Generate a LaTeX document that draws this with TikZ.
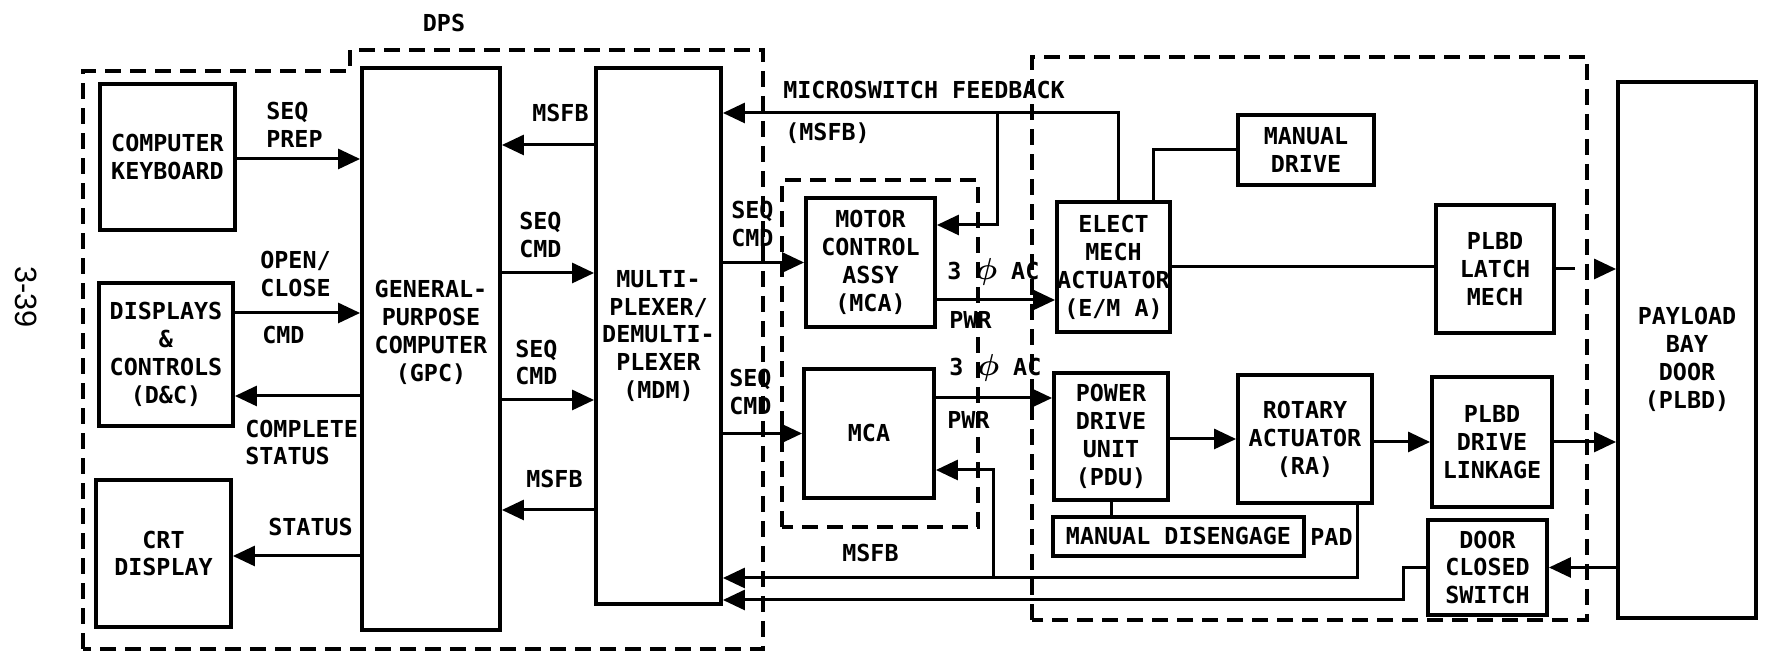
\documentclass[tikz,border=0pt]{standalone}
\usepackage{fontspec}
\setmainfont{DejaVu Sans Mono}
\newfontfamily\pagefont{Liberation Sans}
\usetikzlibrary{arrows.meta}

\newcommand{\phisym}{{\fontsize{17}{17}\selectfont\boldmath$\phi$}}

\begin{document}
\begin{tikzpicture}[
        box/.style={draw, line width=2.2pt, inner sep=0pt, align=center},
        wire/.style={line width=1.7pt},
        flow/.style={wire, -{Triangle[length=0.44cm, width=0.40cm]}},
        bound/.style={line width=1.9pt, dash pattern=on 0.32cm off 0.18cm},
        lbl/.style={align=left, anchor=west, inner sep=0pt},
        font=\bfseries\fontsize{13.3}{15.9}\selectfont
    ]
        \useasboundingbox (0,0) rectangle (35.32,13.06);

        % Boxes
        \node[box, minimum width=2.70cm, minimum height=2.92cm] (kbd) at (3.35, 9.92) {COMPUTER\\KEYBOARD};
        \node[box, minimum width=2.68cm, minimum height=2.86cm] (dc) at (3.32, 5.97) {DISPLAYS\\\&\\CONTROLS\\(D\&C)};
        \node[box, minimum width=2.70cm, minimum height=2.94cm] (crt) at (3.27, 1.99) {CRT\\DISPLAY};
        \node[box, minimum width=2.76cm, minimum height=11.24cm] (gpc) at (8.62, 6.08) {};
        \node[align=center] (gpctxt) at (8.62, 6.42) {GENERAL-\\PURPOSE\\COMPUTER\\(GPC)};
        \node[box, minimum width=2.50cm, minimum height=10.72cm] (mdm) at (13.17, 6.34) {MULTI-\\PLEXER/\\DEMULTI-\\PLEXER\\(MDM)};
        \node[box, minimum width=2.58cm, minimum height=2.58cm] (mca) at (17.41, 7.81) {MOTOR\\CONTROL\\ASSY\\(MCA)};
        \node[box, minimum width=2.60cm, minimum height=2.58cm] (mcb) at (17.38, 4.39) {MCA};
        \node[box, minimum width=2.26cm, minimum height=2.60cm] (ema) at (22.27, 7.72) {ELECT\\MECH\\ACTUATOR\\(E/M A)};
        \node[box, minimum width=2.28cm, minimum height=2.54cm] (pdu) at (22.22, 4.33) {POWER\\DRIVE\\UNIT\\(PDU)};
        \node[box, minimum width=5.02cm, minimum height=0.78cm] (mdis) at (23.57, 2.33) {MANUAL DISENGAGE};
        \node[box, minimum width=2.72cm, minimum height=1.40cm] (mdrive) at (26.12, 10.06) {MANUAL\\DRIVE};
        \node[box, minimum width=2.68cm, minimum height=2.56cm] (ra) at (26.10, 4.28) {ROTARY\\ACTUATOR\\(RA)};
        \node[box, minimum width=2.36cm, minimum height=2.56cm] (latch) at (29.90, 7.68) {PLBD\\LATCH\\MECH};
        \node[box, minimum width=2.40cm, minimum height=2.60cm] (linkage) at (29.84, 4.22) {PLBD\\DRIVE\\LINKAGE};
        \node[box, minimum width=2.38cm, minimum height=1.90cm] (dcs) at (29.75, 1.71) {DOOR\\CLOSED\\SWITCH};
        \node[box, minimum width=2.76cm, minimum height=10.72cm] (plbd) at (33.74, 6.06) {};
        \node[align=center] (plbdtxt) at (33.74, 5.88) {PAYLOAD\\BAY\\DOOR\\(PLBD)};

        % Coordinates
        \coordinate (yprep) at (0, 9.88);
        \coordinate (yocc) at (0, 6.80);
        \coordinate (ycst) at (0, 5.14);
        \coordinate (ysts) at (0, 1.94);
        \coordinate (yfb1) at (0, 10.16);
        \coordinate (ycmd1) at (0, 7.60);
        \coordinate (ycmd2) at (0, 5.06);
        \coordinate (yfb2) at (0, 2.86);
        \coordinate (yac1) at (0, 7.06);
        \coordinate (yac2) at (0, 5.10);
        \coordinate (fbtop) at (22.36, 10.80);
        \coordinate (fbsplit) at (19.94, 10.80);
        \coordinate (fbmca) at (19.94, 8.56);
        \coordinate (mdx) at (23.06, 0);
        \coordinate (raout) at (27.14, 1.50);
        \coordinate (mcbin) at (19.86, 3.66);
        \coordinate (dcsx) at (28.06, 1.06);

        % Dashed outlines
        \draw[bound] (1.66, 0.08) -- (1.66, 11.64) -- (7.00, 11.64) -- (7.00, 12.06) -- (15.26, 12.06) -- (15.26, 0.08) -- cycle;
        \draw[bound] (15.64, 2.52) rectangle (19.56, 9.46);
        \draw[bound] (20.64, 0.66) rectangle (31.74, 11.92);

        % Connectors
        \draw[flow] (kbd.east |- yprep) -- (gpc.west |- yprep);
        \draw[flow] (dc.east |- yocc) -- (gpc.west |- yocc);
        \draw[flow] (gpc.west |- ycst) -- (dc.east |- ycst);
        \draw[flow] (gpc.west |- ysts) -- (crt.east |- ysts);
        \draw[flow] (mdm.west |- yfb1) -- (gpc.east |- yfb1);
        \draw[flow] (gpc.east |- ycmd1) -- (mdm.west |- ycmd1);
        \draw[flow] (gpc.east |- ycmd2) -- (mdm.west |- ycmd2);
        \draw[flow] (mdm.west |- yfb2) -- (gpc.east |- yfb2);
        \draw[flow] (mdm.east |- mca.west) -- (mca.west);
        \draw[flow] (mdm.east |- mcb.west) -- (mcb.west);
        \draw[flow] (mca.east |- yac1) -- (ema.west |- yac1);
        \draw[flow] (mcb.east |- yac2) -- (pdu.west |- yac2);
        \draw[flow] (ema.north -| fbtop) -- (fbtop) -- (mdm.east |- fbtop);
        \draw[flow] (fbsplit) -- (fbmca) -- (mca.east |- fbmca);
        \draw[wire] (ema.north -| mdx) |- (mdrive.west);
        \draw[wire] (ema.east) -- (ema.east -| latch.west);
        \draw[flow, dash pattern=on 0.38cm off 0.5cm] (latch.east) -- (latch.east -| plbd.west);
        \draw[flow] (pdu.east |- ra.west) -- (ra.west);
        \draw[flow] (ra.east |- linkage.west) -- (linkage.west);
        \draw[flow] (linkage.east) -- (linkage.east -| plbd.west);
        \draw[flow] (plbd.west |- dcs.east) -- (dcs.east);
        \draw[wire] (pdu.south) -- (pdu.south |- mdis.north);
        \draw[flow] (ra.south -| raout) -- (raout) -- (mdm.east |- raout);
        \draw[flow] (mcbin |- raout) -- (mcbin) -- (mcb.east |- mcbin);
        \draw[flow] (dcs.west) -| (dcsx) -- (mdm.east |- dcsx);

        % Labels
        \node (ldps) at (8.88, 12.60) {DPS};
        \node[rotate=-90, font=\pagefont\fontsize{17.5}{20}\selectfont] (lpage) at (0.52, 7.12) {3-39};
        \node[lbl] (lprep) at (5.32, 10.57) {SEQ\\PREP};
        \node[lbl] (locc) at (5.20, 7.58) {OPEN/\\CLOSE};
        \node[lbl] (locmd) at (5.24, 6.36) {CMD};
        \node[lbl] (lcst) at (4.90, 4.21) {COMPLETE\\STATUS};
        \node[lbl] (lsts) at (5.36, 2.52) {STATUS};
        \node[lbl] (lfb1) at (10.64, 10.80) {MSFB};
        \node[lbl] (lcmd1) at (10.38, 8.36) {SEQ\\CMD};
        \node[lbl] (lcmd2) at (10.30, 5.81) {SEQ\\CMD};
        \node[lbl] (lfb2) at (10.52, 3.48) {MSFB};
        \node[lbl] (lcmd3) at (14.62, 8.58) {SEQ\\CMD};
        \node[lbl] (lcmd4) at (14.58, 5.22) {SEQ\\CMD};
        \node[lbl] (lmsf) at (15.66, 11.26) {MICROSWITCH FEEDBACK};
        \node[lbl] (lmsfb) at (15.70, 10.40) {(MSFB)};
        \node[lbl] (lac1) at (18.94, 7.62) {3 \phisym{} AC};
        \node[lbl] (lpwr1) at (18.98, 6.66) {PWR};
        \node[lbl] (lac2) at (18.98, 5.70) {3 \phisym{} AC};
        \node[lbl] (lpwr2) at (18.94, 4.66) {PWR};
        \node[lbl] (lfb3) at (16.84, 2.00) {MSFB};
        \node[lbl] (lpad) at (26.20, 2.32) {PAD};
    \end{tikzpicture}
\end{document}
